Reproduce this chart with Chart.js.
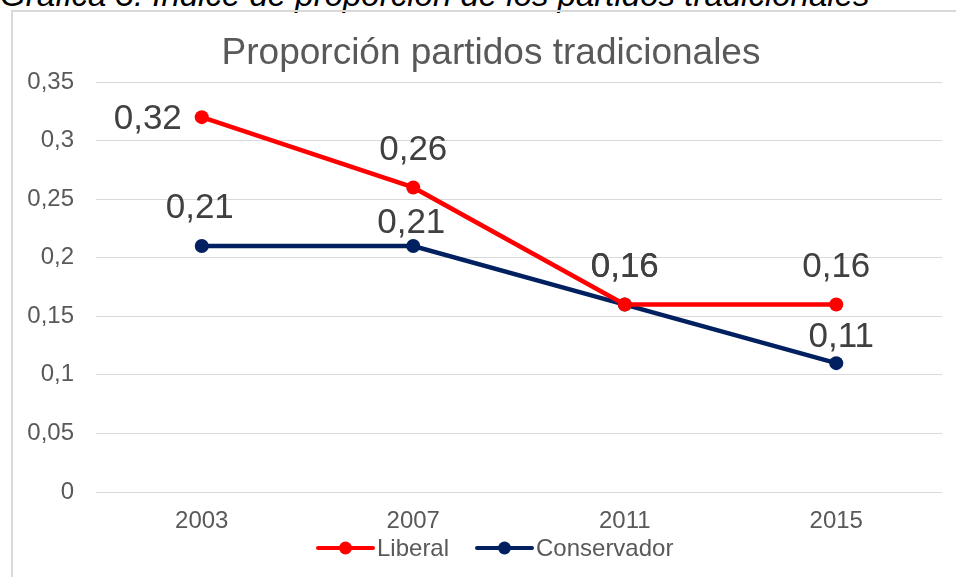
<!DOCTYPE html>
<html>
<head>
<meta charset="utf-8">
<script src="https://cdn.jsdelivr.net/npm/chart.js@4"></script>
<style>
  html, body { margin: 0; padding: 0; background: #fff; overflow: hidden; width: 956px; height: 577px; }
  #frame { position: absolute; left: 11px; top: 10px; width: 1000px; height: 700px; border: 2px solid #d9d9d9; box-sizing: border-box; }
  #caption { position: absolute; left: 0; top: -22px; font: italic 33px "Liberation Sans", Arial, sans-serif; line-height: 33px; white-space: nowrap; color: #000; }
  #chart { position: absolute; left: 0; top: 0; }
</style>
</head>
<body>
<div id="caption">Gráfica 3. Índice de proporción de los partidos tradicionales</div>
<div id="frame"></div>
<canvas id="chart" width="956" height="577"></canvas>
<script>
const years = ['2003', '2007', '2011', '2015'];
const liberal = [0.32, 0.26, 0.16, 0.16];
const conservador = [0.21, 0.21, 0.16, 0.11];
const yMin = 0;
const yMax = 0.35;
const yStep = 0.05;

// where each value label sits relative to its point
const liberalLabelOffsets = [[-54, 2], [0, -37], [0, -37], [0, -37]];
const conservadorLabelOffsets = [[-2, -38], [-2, -23], [0, -37], [5, -26]];

const FONT = '"Liberation Sans", Arial, sans-serif';
const RED = '#ff0000';
const NAVY = '#002060';

const fmt = (v) => String(Math.round(v * 100) / 100).replace('.', ',');

const extras = {
  id: 'extras',
  afterDatasetsDraw(chart) {
    const ctx = chart.ctx;
    ctx.save();

    // title
    ctx.fillStyle = '#595959';
    ctx.font = '37px ' + FONT;
    ctx.textAlign = 'center';
    ctx.textBaseline = 'alphabetic';
    ctx.fillText('Proporción partidos tradicionales', 491, 64);

    // value labels
    ctx.font = '35px ' + FONT;
    ctx.fillStyle = '#404040';
    ctx.textBaseline = 'middle';
    chart.data.datasets.forEach((ds, i) => {
      chart.getDatasetMeta(i).data.forEach((pt, j) => {
        const [dx, dy] = ds.labelOffsets[j];
        ctx.fillText(fmt(ds.data[j]), pt.x + dx, pt.y + dy);
      });
    });

    // legend
    const items = [
      { text: 'Liberal', color: RED, x: 318 },
      { text: 'Conservador', color: NAVY, x: 477 },
    ];
    const ly = 548;
    ctx.font = '24px ' + FONT;
    ctx.textAlign = 'left';
    items.forEach((it) => {
      ctx.strokeStyle = it.color;
      ctx.fillStyle = it.color;
      ctx.lineWidth = 4;
      ctx.lineCap = 'round';
      ctx.beginPath();
      ctx.moveTo(it.x, ly);
      ctx.lineTo(it.x + 55, ly);
      ctx.stroke();
      ctx.beginPath();
      ctx.arc(it.x + 27.5, ly, 6.5, 0, Math.PI * 2);
      ctx.fill();
      ctx.fillStyle = '#595959';
      ctx.fillText(it.text, it.x + 59, ly + 1);
    });

    ctx.restore();
  }
};

new Chart(document.getElementById('chart'), {
  type: 'line',
  data: {
    labels: years,
    datasets: [
      {
        label: 'Liberal',
        data: liberal,
        borderColor: RED,
        backgroundColor: RED,
        borderWidth: 4.5,
        pointRadius: 7,
        pointHoverRadius: 7,
        pointBorderWidth: 0,
        labelOffsets: liberalLabelOffsets,
      },
      {
        label: 'Conservador',
        data: conservador,
        borderColor: NAVY,
        backgroundColor: NAVY,
        borderWidth: 4.5,
        pointRadius: 7,
        pointHoverRadius: 7,
        pointBorderWidth: 0,
        labelOffsets: conservadorLabelOffsets,
      },
    ],
  },
  options: {
    responsive: false,
    animation: false,
    layout: { padding: { top: 82, right: 14, left: 0, bottom: 0 } },
    plugins: {
      legend: { display: false },
      title: { display: false },
      tooltip: { enabled: false },
    },
    scales: {
      x: {
        offset: true,
        grid: { display: false, drawTicks: false },
        border: { display: false },
        ticks: { color: '#595959', font: { family: FONT, size: 24 }, padding: 15 },
        afterFit: (scale) => { scale.height = 85; },
      },
      y: {
        min: yMin,
        max: yMax,
        grid: { color: '#d9d9d9', lineWidth: 1, drawTicks: false },
        border: { display: false },
        ticks: {
          stepSize: yStep,
          color: '#595959',
          font: { family: FONT, size: 24 },
          padding: 22,
          callback: (v) => fmt(v),
        },
        afterFit: (scale) => { scale.width = 96; },
      },
    },
  },
  plugins: [extras],
});
</script>
</body>
</html>
